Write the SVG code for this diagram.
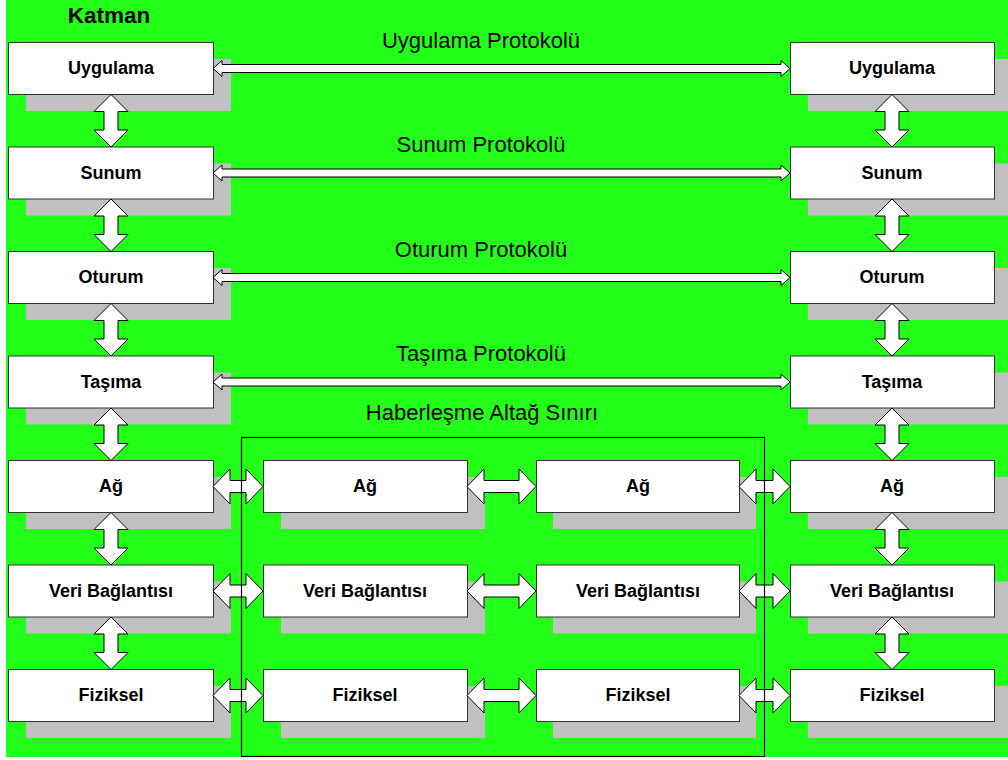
<svg xmlns="http://www.w3.org/2000/svg" xmlns:xlink="http://www.w3.org/1999/xlink" width="1008" height="760" viewBox="0 0 1008 760">
<style>
.bg{fill:#22ff18}
.sh{fill:#c0c0c0}
.box{fill:#ffffff;stroke:#333333;stroke-width:1}
.lbl{font-family:"Liberation Sans",Arial,sans-serif;font-size:18px;font-weight:bold;fill:#000;text-anchor:middle}
.proto{font-family:"Liberation Sans",Arial,sans-serif;font-size:22px;fill:#000;text-anchor:middle}
.title{font-family:"Liberation Sans",Arial,sans-serif;font-size:22.5px;font-weight:bold;fill:#000;text-anchor:middle}
.arr{fill:#ffffff;stroke:#000000;stroke-width:1;stroke-linejoin:miter}
.frame{fill:none;stroke:#000000;stroke-width:1.2}
</style>
<defs>
<path id="va" d="M0,0 L17,17 L7,17 L7,35.5 L17,35.5 L0,52.5 L-17,35.5 L-7,35.5 L-7,17 L-17,17 Z"/>
<path id="pa" d="M213,0 L222,-8 L222,-4 L781,-4 L781,-8 L790,0 L781,8 L781,4 L222,4 L222,8 Z"/>
<path id="hL" d="M213,0 L230,-17.5 L230,-6 L246,-6 L246,-17.5 L263,0 L246,17.5 L246,6 L230,6 L230,17.5 Z"/>
<path id="hM" d="M467,0 L484,-17.5 L484,-6 L519,-6 L519,-17.5 L536,0 L519,17.5 L519,6 L484,6 L484,17.5 Z"/>
<path id="hR" d="M739,0 L756,-17.5 L756,-6 L773,-6 L773,-17.5 L790,0 L773,17.5 L773,6 L756,6 L756,17.5 Z"/>
</defs>
<rect x="0" y="0" width="1008" height="760" fill="#ffffff"/>
<rect class="bg" x="6" y="0" width="1002" height="757"/>
<text class="title" x="109" y="23">Katman</text>

<!-- left column -->
<g id="L1"><rect class="sh" x="26" y="59" width="205" height="52"/><rect class="box" x="8.5" y="42.5" width="205" height="52"/><text class="lbl" x="111" y="74">Uygulama</text></g>
<g id="L2"><rect class="sh" x="26" y="163.5" width="205" height="52"/><rect class="box" x="8.5" y="147" width="205" height="52"/><text class="lbl" x="111" y="178.5">Sunum</text></g>
<g id="L3"><rect class="sh" x="26" y="268" width="205" height="52"/><rect class="box" x="8.5" y="251.5" width="205" height="52"/><text class="lbl" x="111" y="283">Oturum</text></g>
<g id="L4"><rect class="sh" x="26" y="372.5" width="205" height="52"/><rect class="box" x="8.5" y="356" width="205" height="52"/><text class="lbl" x="111" y="387.5">Taşıma</text></g>
<g id="L5"><rect class="sh" x="26" y="477" width="205" height="52"/><rect class="box" x="8.5" y="460.5" width="205" height="52"/><text class="lbl" x="111" y="492">Ağ</text></g>
<g id="L6"><rect class="sh" x="26" y="581.5" width="205" height="52"/><rect class="box" x="8.5" y="565" width="205" height="52"/><text class="lbl" x="111" y="596.5">Veri Bağlantısı</text></g>
<g id="L7"><rect class="sh" x="26" y="686" width="205" height="52"/><rect class="box" x="8.5" y="669.5" width="205" height="52"/><text class="lbl" x="111" y="701">Fiziksel</text></g>

<!-- right column -->
<g id="R1"><rect class="sh" x="808" y="59" width="204" height="52"/><rect class="box" x="790.5" y="42.5" width="204" height="52"/><text class="lbl" x="892" y="74">Uygulama</text></g>
<g id="R2"><rect class="sh" x="808" y="163.5" width="204" height="52"/><rect class="box" x="790.5" y="147" width="204" height="52"/><text class="lbl" x="892" y="178.5">Sunum</text></g>
<g id="R3"><rect class="sh" x="808" y="268" width="204" height="52"/><rect class="box" x="790.5" y="251.5" width="204" height="52"/><text class="lbl" x="892" y="283">Oturum</text></g>
<g id="R4"><rect class="sh" x="808" y="372.5" width="204" height="52"/><rect class="box" x="790.5" y="356" width="204" height="52"/><text class="lbl" x="892" y="387.5">Taşıma</text></g>
<g id="R5"><rect class="sh" x="808" y="477" width="204" height="52"/><rect class="box" x="790.5" y="460.5" width="204" height="52"/><text class="lbl" x="892" y="492">Ağ</text></g>
<g id="R6"><rect class="sh" x="808" y="581.5" width="204" height="52"/><rect class="box" x="790.5" y="565" width="204" height="52"/><text class="lbl" x="892" y="596.5">Veri Bağlantısı</text></g>
<g id="R7"><rect class="sh" x="808" y="686" width="204" height="52"/><rect class="box" x="790.5" y="669.5" width="204" height="52"/><text class="lbl" x="892" y="701">Fiziksel</text></g>

<!-- middle left column -->
<g id="ML5"><rect class="sh" x="281" y="477" width="204" height="52"/><rect class="box" x="263.5" y="460.5" width="204" height="52"/><text class="lbl" x="365" y="492">Ağ</text></g>
<g id="ML6"><rect class="sh" x="281" y="581.5" width="204" height="52"/><rect class="box" x="263.5" y="565" width="204" height="52"/><text class="lbl" x="365" y="596.5">Veri Bağlantısı</text></g>
<g id="ML7"><rect class="sh" x="281" y="686" width="204" height="52"/><rect class="box" x="263.5" y="669.5" width="204" height="52"/><text class="lbl" x="365" y="701">Fiziksel</text></g>

<!-- middle right column -->
<g id="MR5"><rect class="sh" x="553" y="477" width="203" height="52"/><rect class="box" x="536.5" y="460.5" width="203" height="52"/><text class="lbl" x="638" y="492">Ağ</text></g>
<g id="MR6"><rect class="sh" x="553" y="581.5" width="203" height="52"/><rect class="box" x="536.5" y="565" width="203" height="52"/><text class="lbl" x="638" y="596.5">Veri Bağlantısı</text></g>
<g id="MR7"><rect class="sh" x="553" y="686" width="203" height="52"/><rect class="box" x="536.5" y="669.5" width="203" height="52"/><text class="lbl" x="638" y="701">Fiziksel</text></g>

<g id="connectors">
<use xlink:href="#va" href="#va" class="arr" x="111" y="94.5"/>
<use xlink:href="#va" href="#va" class="arr" x="111" y="199"/>
<use xlink:href="#va" href="#va" class="arr" x="111" y="303.5"/>
<use xlink:href="#va" href="#va" class="arr" x="111" y="408"/>
<use xlink:href="#va" href="#va" class="arr" x="111" y="512.5"/>
<use xlink:href="#va" href="#va" class="arr" x="111" y="617"/>
<use xlink:href="#va" href="#va" class="arr" x="892" y="94.5"/>
<use xlink:href="#va" href="#va" class="arr" x="892" y="199"/>
<use xlink:href="#va" href="#va" class="arr" x="892" y="303.5"/>
<use xlink:href="#va" href="#va" class="arr" x="892" y="408"/>
<use xlink:href="#va" href="#va" class="arr" x="892" y="512.5"/>
<use xlink:href="#va" href="#va" class="arr" x="892" y="617"/>
<use xlink:href="#pa" href="#pa" class="arr" x="0" y="68.5"/>
<use xlink:href="#pa" href="#pa" class="arr" x="0" y="173"/>
<use xlink:href="#pa" href="#pa" class="arr" x="0" y="277.5"/>
<use xlink:href="#pa" href="#pa" class="arr" x="0" y="382"/>
<use xlink:href="#hL" href="#hL" class="arr" x="0" y="486.5"/>
<use xlink:href="#hM" href="#hM" class="arr" x="0" y="486.5"/>
<use xlink:href="#hR" href="#hR" class="arr" x="0" y="486.5"/>
<use xlink:href="#hL" href="#hL" class="arr" x="0" y="591"/>
<use xlink:href="#hM" href="#hM" class="arr" x="0" y="591"/>
<use xlink:href="#hR" href="#hR" class="arr" x="0" y="591"/>
<use xlink:href="#hL" href="#hL" class="arr" x="0" y="695.5"/>
<use xlink:href="#hM" href="#hM" class="arr" x="0" y="695.5"/>
<use xlink:href="#hR" href="#hR" class="arr" x="0" y="695.5"/>
</g>

<g id="protocol-labels">
<text class="proto" x="481" y="48">Uygulama Protokolü</text>
<text class="proto" x="481" y="152">Sunum Protokolü</text>
<text class="proto" x="481" y="256.5">Oturum Protokolü</text>
<text class="proto" x="481" y="361">Taşıma Protokolü</text>
</g>

<g id="subnet-boundary">
<rect class="frame" x="241.5" y="437.5" width="523" height="319"/>
<text class="proto" x="482" y="420">Haberleşme Altağ Sınırı</text>
</g>
</svg>
